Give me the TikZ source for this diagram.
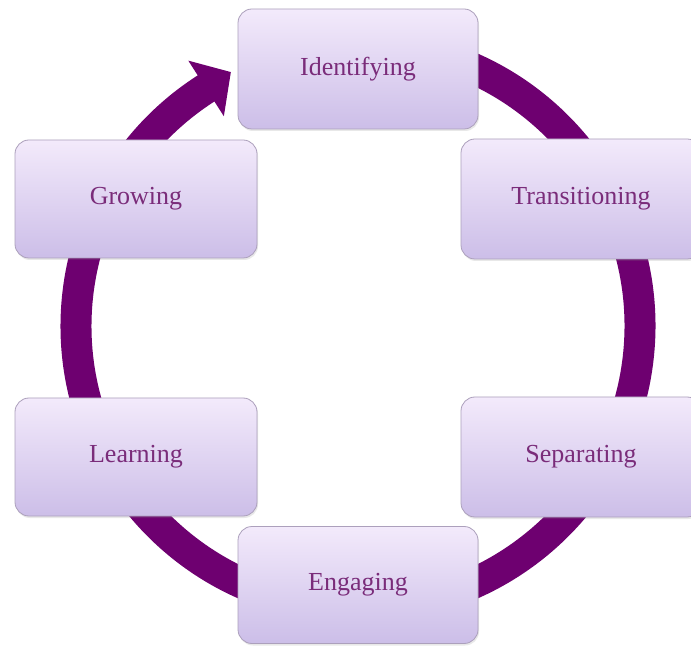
\documentclass[tikz,border=0pt]{standalone}
\usepackage{fontspec}
\setmainfont{Liberation Serif}
\usetikzlibrary{shadows}
\definecolor{ringc}{RGB}{110,0,112}
\definecolor{boxtop}{RGB}{243,234,251}
\definecolor{boxbot}{RGB}{204,190,232}
\definecolor{boxline}{RGB}{172,160,188}
\definecolor{txt}{RGB}{122,44,122}
\tikzset{
  stagebox/.style={draw=boxline, line width=0.8pt, rounded corners=14pt,
    top color=boxtop, bottom color=boxbot,
    minimum width=240pt, minimum height=120pt, inner sep=0pt,
    font=\fontsize{26}{30}\selectfont, text=txt,
    drop shadow={opacity=0.18, shadow xshift=1pt, shadow yshift=-2pt}},
  ring/.style={draw=ringc, line width=31pt}
}
\begin{document}
\begin{tikzpicture}[x=1pt,y=1pt]
\useasboundingbox (0,0) rectangle (691,646);
\clip (0,0) rectangle (691,646);
\fill[white] (0,0) rectangle (691,646);
\coordinate (c) at (358,320);
% ring
\draw[ring] ([shift={(85:282pt)}]c) arc[start angle=85, end angle=-238.6, radius=282pt];
\fill[ringc] ([shift={(122.6:249pt)}]c) -- ([shift={(116.6:284pt)}]c) -- ([shift={(122.6:315pt)}]c) -- cycle;
% stages
\node[stagebox] (ident) at (358,577) {Identifying};
\node[stagebox] (trans) at (581,447) {Transitioning};
\node[stagebox] (sep)   at (581,189) {Separating};
\node[stagebox, minimum height=117pt] (eng) at (358,61) {Engaging};
\node[stagebox, minimum width=242pt, minimum height=118pt] (learn) at (136,189) {Learning};
\node[stagebox, minimum width=242pt, minimum height=118pt] (grow)  at (136,447) {Growing};
\end{tikzpicture}
\end{document}
